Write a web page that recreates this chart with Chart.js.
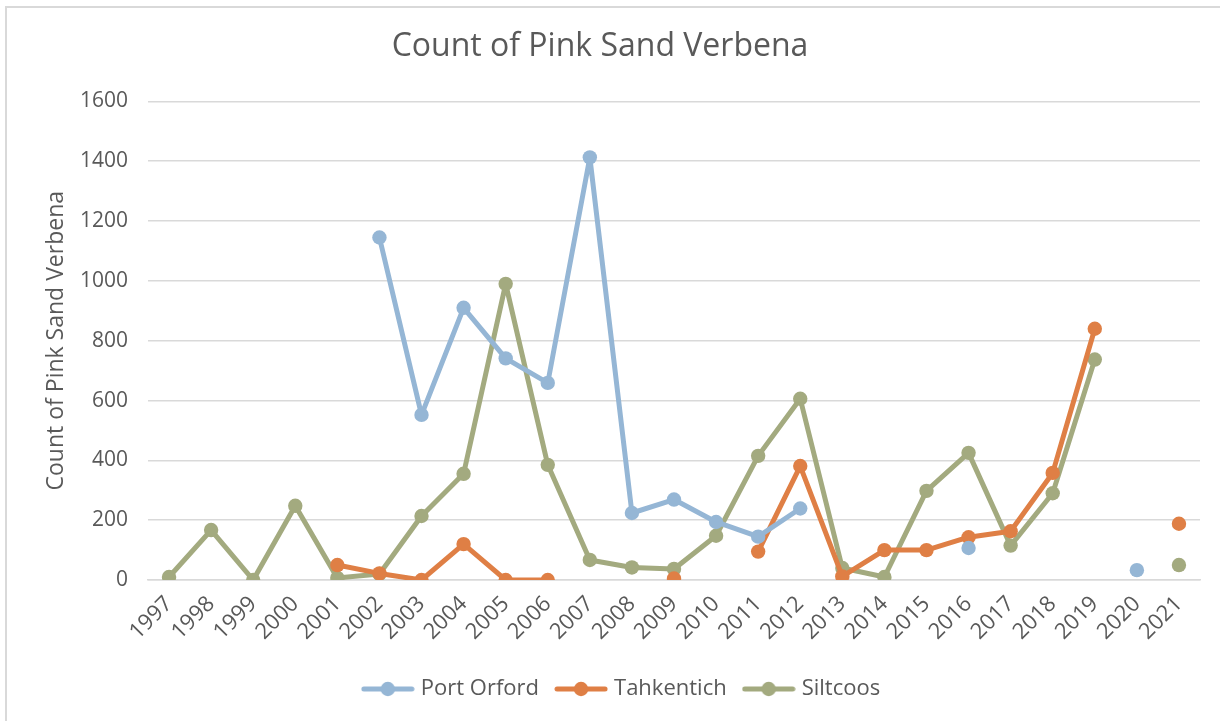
<!DOCTYPE html>
<html>
<head>
<meta charset="utf-8">
<script src="https://cdn.jsdelivr.net/npm/chart.js@4.4.1/dist/chart.umd.min.js"></script>
<style>
  html, body { margin: 0; padding: 0; background: #ffffff; }
  #wrap { width: 1220px; height: 721px; position: relative; }
</style>
</head>
<body>
<div id="wrap"><canvas id="c" width="1220" height="721"></canvas></div>
<script>
const years = ['1997','1998','1999','2000','2001','2002','2003','2004','2005','2006','2007','2008','2009','2010','2011','2012','2013','2014','2015','2016','2017','2018','2019','2020','2021'];
const portOrford = [null,null,null,null,null,1145,552,910,741,659,1413,224,269,194,145,239,null,null,null,107,null,null,null,33,null];
const tahkentich = [null,null,null,null,50,22,0,120,0,0,null,null,5,null,95,381,12,100,100,143,163,358,840,null,188];
const siltcoos   = [10,167,0,248,7,20,214,355,990,385,67,42,37,148,415,606,40,10,298,425,115,290,737,null,50];
const yTicks = [0,200,400,600,800,1000,1200,1400,1600];

const FONT = "'Open Sans', 'DejaVu Sans', sans-serif";
const TXT = '#595959';
const C_BLUE = '#95b6d5';
const C_ORANGE = '#df7f45';
const C_GREEN = '#a3aa7f';

function legendIcon(color) {
  const cv = document.createElement('canvas');
  cv.width = 54; cv.height = 16;
  const g = cv.getContext('2d');
  g.strokeStyle = color; g.lineWidth = 5; g.lineCap = 'round';
  g.beginPath(); g.moveTo(3, 8); g.lineTo(51, 8); g.stroke();
  g.fillStyle = color;
  g.beginPath(); g.arc(27, 8, 7.2, 0, Math.PI * 2); g.fill();
  return cv;
}

const borderPlugin = {
  id: 'frame',
  beforeDraw(chart) {
    const ctx = chart.ctx;
    ctx.save();
    ctx.fillStyle = '#ffffff';
    ctx.fillRect(0, 0, chart.width, chart.height);
    ctx.strokeStyle = '#d9d9d9';
    ctx.lineWidth = 2;
    ctx.strokeRect(6, 7, 1240, 740);
    ctx.restore();
  }
};

const legendShift = {
  id: 'legendShift',
  afterLayout(chart) {
    if (chart.legend) {
      chart.legend.left += 23;
      chart.legend.right += 23;
    }
  }
};

function mkDs(label, data, color) {
  return {
    label, data,
    borderColor: color, backgroundColor: color,
    pointBackgroundColor: color, pointBorderColor: color,
    borderWidth: 5, pointRadius: 7.2, pointHoverRadius: 7.2,
    pointBorderWidth: 0, spanGaps: false, tension: 0,
    borderJoinStyle: 'round', borderCapStyle: 'round',
    pointStyle: 'circle'
  };
}

new Chart(document.getElementById('c'), {
  type: 'line',
  data: {
    labels: years,
    datasets: [
      mkDs('Port Orford', portOrford, C_BLUE),
      mkDs('Tahkentich', tahkentich, C_ORANGE),
      mkDs('Siltcoos', siltcoos, C_GREEN)
    ]
  },
  plugins: [borderPlugin, legendShift],
  options: {
    responsive: false,
    animation: false,
    devicePixelRatio: 1,
    layout: { padding: { left: 0, right: 20, top: 0, bottom: 11 } },
    plugins: {
      title: {
        display: true,
        text: 'Count of Pink Sand Verbena',
        color: TXT,
        font: { family: FONT, size: 32, weight: 'normal' },
        padding: { top: 28, bottom: 35 }
      },
      legend: {
        position: 'bottom',
        labels: {
          color: TXT,
          font: { family: FONT, size: 22 },
          usePointStyle: true,
          pointStyleWidth: 44,
          padding: 20,
          generateLabels(chart) {
            return chart.data.datasets.map((ds, i) => ({
              text: ds.label,
              fillStyle: ds.borderColor,
              strokeStyle: ds.borderColor,
              fontColor: TXT,
              lineWidth: 0,
              pointStyle: legendIcon(ds.borderColor),
              datasetIndex: i,
              hidden: false
            }));
          }
        }
      },
      tooltip: { enabled: false }
    },
    scales: {
      x: {
        offset: true,
        grid: { display: false, drawTicks: false, offset: true },
        border: { display: true, color: '#d9d9d9', width: 1.5 },
        ticks: {
          color: TXT, font: { family: FONT, size: 22 },
          maxRotation: 45, minRotation: 45, autoSkip: false, padding: 11
        },
        afterFit(scale) { scale.height = 78; }
      },
      y: {
        min: 0, max: 1600,
        afterBuildTicks(scale) { scale.ticks = yTicks.map(v => ({ value: v })); },
        grid: { color: '#d9d9d9', lineWidth: 1.5, drawTicks: false },
        border: { display: false },
        ticks: {
          color: TXT, font: { family: FONT, size: 21 }, padding: 20,
          callback: (v) => String(v)
        },
        title: {
          display: true, text: 'Count of Pink Sand Verbena', color: TXT,
          font: { family: FONT, size: 23 }, padding: { top: 43, bottom: 0 }
        },
        afterFit(scale) { scale.width = 148; }
      }
    }
  }
});
</script>
</body>
</html>
